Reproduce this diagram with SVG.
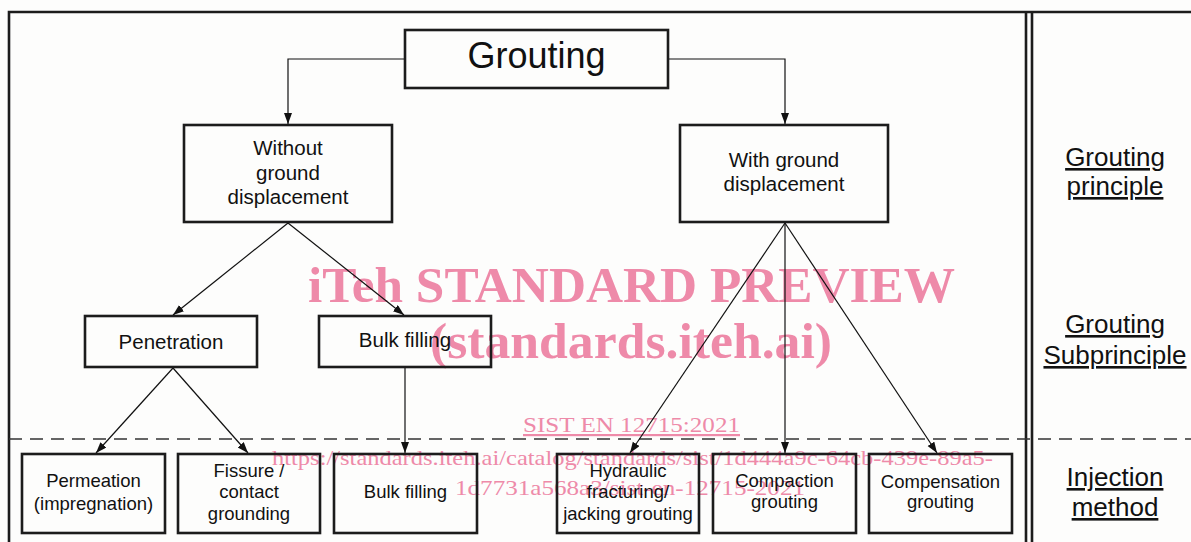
<svg xmlns="http://www.w3.org/2000/svg" width="1191" height="542" viewBox="0 0 1191 542">
  <defs>
    <marker id="arrow" markerUnits="userSpaceOnUse" markerWidth="12" markerHeight="10" refX="11" refY="4" orient="auto">
      <path d="M0,0 L11,4 L0,8 Z" fill="#111"/>
    </marker>
    <style>
      .frame { stroke: #1c1c1c; stroke-width: 2.6; fill: none; }
      .box { stroke: #1c1c1c; stroke-width: 2.6; fill: none; }
      .conn { stroke: #111; stroke-width: 1.2; fill: none; marker-end: url(#arrow); }
      .lbl { font-family: "Liberation Sans", Arial, sans-serif; fill: #111; text-anchor: middle; }
      .mid { font-size: 20.5px; }
      .small { font-size: 18.5px; }
      .side { font-size: 26px; text-decoration: underline; }
      .wm { font-family: "Liberation Serif", "Times New Roman", serif; fill: #ee8aa9; }
    </style>
  </defs>

  <rect width="1191" height="542" fill="#fdfdfc"/>

  <!-- publisher watermark (behind the chart) -->
  <g id="watermark">
    <text class="wm" x="308" y="302" font-size="51" font-weight="bold" textLength="647" lengthAdjust="spacingAndGlyphs">iTeh STANDARD PREVIEW</text>
    <text class="wm" x="430" y="358" font-size="51" font-weight="bold" textLength="402" lengthAdjust="spacingAndGlyphs">(standards.iteh.ai)</text>
    <text class="wm" x="523" y="432" font-size="22" text-decoration="underline" textLength="217" lengthAdjust="spacingAndGlyphs">SIST EN 12715:2021</text>
    <text class="wm" x="272" y="465" font-size="22" textLength="721" lengthAdjust="spacingAndGlyphs">https://standards.iteh.ai/catalog/standards/sist/1d444a9c-64cb-439e-89a5-</text>
    <text class="wm" x="455" y="495" font-size="22" textLength="350" lengthAdjust="spacingAndGlyphs">1d7731a568a3/sist-en-12715-2021</text>
  </g>

  <!-- table frame -->
  <g id="frame">
    <path class="frame" d="M9,542 V12 H1191"/>
    <line class="frame" x1="1026" y1="12" x2="1026" y2="542"/>
    <line class="frame" x1="1032" y1="12" x2="1032" y2="542"/>
    <line x1="9" y1="439" x2="1191" y2="439" stroke="#333" stroke-width="1.3" stroke-dasharray="13 8"/>
  </g>

  <!-- connectors -->
  <g id="connectors">
    <path class="conn" d="M405,59 H288 V124"/>
    <path class="conn" d="M668,59 H785 V124"/>
    <line class="conn" x1="288" y1="223" x2="173" y2="315"/>
    <line class="conn" x1="288" y1="223" x2="404" y2="315"/>
    <line class="conn" x1="173" y1="368" x2="96" y2="453"/>
    <line class="conn" x1="173" y1="368" x2="248" y2="453"/>
    <line class="conn" x1="405" y1="368" x2="405" y2="453"/>
    <line class="conn" x1="785" y1="223" x2="630" y2="453"/>
    <line class="conn" x1="785" y1="223" x2="785" y2="453"/>
    <line class="conn" x1="785" y1="223" x2="937" y2="453"/>
  </g>

  <!-- grouting principle -->
  <g id="grouting">
    <rect class="box" x="405" y="30" width="263" height="58"/>
    <text class="lbl" x="536.5" y="68" font-size="36">Grouting</text>
  </g>
  <g id="without-displacement">
    <rect class="box" x="184" y="125" width="208" height="97"/>
    <text class="lbl mid" x="288" y="155">Without</text>
    <text class="lbl mid" x="288" y="180">ground</text>
    <text class="lbl mid" x="288" y="204">displacement</text>
  </g>
  <g id="with-displacement">
    <rect class="box" x="680" y="125" width="208" height="97"/>
    <text class="lbl mid" x="784" y="167">With ground</text>
    <text class="lbl mid" x="784" y="191">displacement</text>
  </g>

  <!-- subprinciples -->
  <g id="penetration">
    <rect class="box" x="85" y="316" width="172" height="51"/>
    <text class="lbl mid" x="171" y="349">Penetration</text>
  </g>
  <g id="bulk-filling-sub">
    <rect class="box" x="319" y="316" width="172" height="51"/>
    <text class="lbl mid" x="405" y="347">Bulk filling</text>
  </g>

  <!-- injection methods -->
  <g id="permeation">
    <rect class="box" x="22" y="454" width="143" height="79"/>
    <text class="lbl small" x="93.5" y="487">Permeation</text>
    <text class="lbl small" x="93.5" y="510">(impregnation)</text>
  </g>
  <g id="fissure">
    <rect class="box" x="178" y="454" width="142" height="79"/>
    <text class="lbl small" x="249" y="477">Fissure /</text>
    <text class="lbl small" x="249" y="498">contact</text>
    <text class="lbl small" x="249" y="520">grounding</text>
  </g>
  <g id="bulk-filling">
    <rect class="box" x="334" y="454" width="143" height="79"/>
    <text class="lbl small" x="405.5" y="498">Bulk filling</text>
  </g>
  <g id="hydraulic">
    <rect class="box" x="557" y="454" width="142" height="79"/>
    <text class="lbl small" x="628" y="477">Hydraulic</text>
    <text class="lbl small" x="628" y="498">fracturing/</text>
    <text class="lbl small" x="628" y="520">jacking grouting</text>
  </g>
  <g id="compaction">
    <rect class="box" x="713" y="454" width="143" height="79"/>
    <text class="lbl small" x="784.5" y="487">Compaction</text>
    <text class="lbl small" x="784.5" y="508">grouting</text>
  </g>
  <g id="compensation">
    <rect class="box" x="869" y="454" width="143" height="79"/>
    <text class="lbl small" x="940.5" y="488">Compensation</text>
    <text class="lbl small" x="940.5" y="508">grouting</text>
  </g>

  <!-- level captions -->
  <g id="captions">
    <text class="lbl side" x="1115" y="166">Grouting</text>
    <text class="lbl side" x="1115" y="195">principle</text>
    <text class="lbl side" x="1115" y="333">Grouting</text>
    <text class="lbl side" x="1115" y="364">Subprinciple</text>
    <text class="lbl side" x="1115" y="486">Injection</text>
    <text class="lbl side" x="1115" y="516">method</text>
  </g>
</svg>
